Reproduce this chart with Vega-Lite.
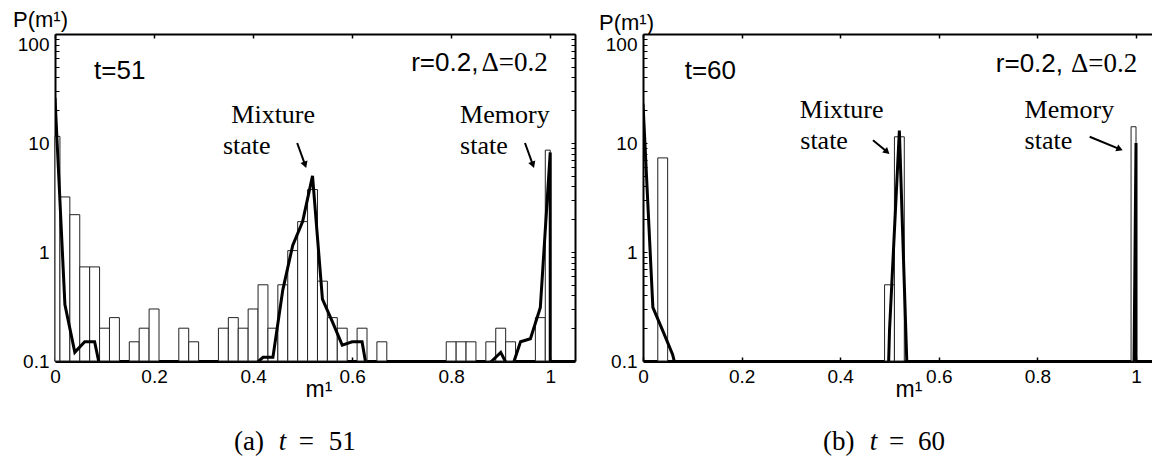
{
  "$schema": "https://vega.github.io/schema/vega-lite/v6.json",
  "padding": {"left": 12, "top": 8, "right": 0, "bottom": 0},
  "spacing": 22,
  "config": {"view": {"stroke": null}, "font": "Liberation Sans"},
  "datasets": {
    "barsA": [
      {"lo": 0, "hi": 0.01, "p": 11.5}, {"lo": 0.01, "hi": 0.03, "p": 3.2}, {"lo": 0.03, "hi": 0.05, "p": 2.2},
      {"lo": 0.05, "hi": 0.07, "p": 0.73}, {"lo": 0.07, "hi": 0.09, "p": 0.73}, {"lo": 0.09, "hi": 0.11, "p": 0.2},
      {"lo": 0.11, "hi": 0.13, "p": 0.25}, {"lo": 0.15, "hi": 0.17, "p": 0.15}, {"lo": 0.17, "hi": 0.19, "p": 0.2},
      {"lo": 0.19, "hi": 0.21, "p": 0.3}, {"lo": 0.25, "hi": 0.27, "p": 0.2}, {"lo": 0.27, "hi": 0.29, "p": 0.15},
      {"lo": 0.33, "hi": 0.35, "p": 0.2}, {"lo": 0.35, "hi": 0.37, "p": 0.25}, {"lo": 0.37, "hi": 0.39, "p": 0.2},
      {"lo": 0.39, "hi": 0.41, "p": 0.3}, {"lo": 0.41, "hi": 0.43, "p": 0.5}, {"lo": 0.43, "hi": 0.45, "p": 0.2},
      {"lo": 0.45, "hi": 0.47, "p": 0.5}, {"lo": 0.47, "hi": 0.49, "p": 1.03}, {"lo": 0.49, "hi": 0.51, "p": 1.9},
      {"lo": 0.51, "hi": 0.53, "p": 3.74}, {"lo": 0.53, "hi": 0.55, "p": 0.54}, {"lo": 0.55, "hi": 0.57, "p": 0.25},
      {"lo": 0.57, "hi": 0.59, "p": 0.2}, {"lo": 0.61, "hi": 0.63, "p": 0.2}, {"lo": 0.65, "hi": 0.67, "p": 0.15},
      {"lo": 0.79, "hi": 0.81, "p": 0.15}, {"lo": 0.81, "hi": 0.83, "p": 0.15}, {"lo": 0.83, "hi": 0.85, "p": 0.15},
      {"lo": 0.87, "hi": 0.89, "p": 0.15}, {"lo": 0.89, "hi": 0.91, "p": 0.2}, {"lo": 0.91, "hi": 0.93, "p": 0.15},
      {"lo": 0.97, "hi": 0.99, "p": 0.25}, {"lo": 0.99, "hi": 1.0, "p": 8.6}
    ],
    "lineA": [
      {"i": 0, "m": 0, "p": 26}, {"i": 1, "m": 0.02, "p": 0.33}, {"i": 2, "m": 0.04, "p": 0.12},
      {"i": 3, "m": 0.06, "p": 0.15}, {"i": 4, "m": 0.08, "p": 0.15}, {"i": 5, "m": 0.1, "p": 0.055},
      {"i": 6, "m": 0.4, "p": 0.09}, {"i": 7, "m": 0.42, "p": 0.108}, {"i": 8, "m": 0.44, "p": 0.108},
      {"i": 9, "m": 0.46, "p": 0.45}, {"i": 10, "m": 0.48, "p": 1.15}, {"i": 11, "m": 0.5, "p": 1.9},
      {"i": 12, "m": 0.52, "p": 5.0}, {"i": 13, "m": 0.54, "p": 0.37}, {"i": 14, "m": 0.56, "p": 0.23},
      {"i": 15, "m": 0.58, "p": 0.14}, {"i": 16, "m": 0.6, "p": 0.15}, {"i": 17, "m": 0.62, "p": 0.15},
      {"i": 18, "m": 0.64, "p": 0.045}, {"i": 19, "m": 0.88, "p": 0.098}, {"i": 20, "m": 0.9, "p": 0.12},
      {"i": 21, "m": 0.92, "p": 0.08}, {"i": 22, "m": 0.94, "p": 0.15}, {"i": 23, "m": 0.96, "p": 0.16},
      {"i": 24, "m": 0.98, "p": 0.31}, {"i": 25, "m": 1.0, "p": 8.2}, {"i": 26, "m": 1.0, "p": 0.0001}
    ],
    "notesA": [
      {"g": "time", "m": 0.079, "p": 39, "label": "t=51"},
      {"g": "r", "m": 0.855, "p": 46, "label": "r=0.2,"},
      {"g": "delta", "m": 0.861, "p": 46, "label": "Δ=0.2"},
      {"g": "state", "m": 0.356, "p": 15.2, "label": "Mixture"},
      {"g": "state", "m": 0.339, "p": 7.94, "label": "state"},
      {"g": "state", "m": 0.818, "p": 15.2, "label": "Memory"},
      {"g": "state", "m": 0.818, "p": 7.94, "label": "state"},
      {"g": "cap", "m": 0.3616, "p": 0.0152, "label": "(a)"},
      {"g": "capvar", "m": 0.452, "p": 0.0152, "label": "t"},
      {"g": "cap", "m": 0.492, "p": 0.0152, "label": "="},
      {"g": "cap", "m": 0.553, "p": 0.0152, "label": "51"}
    ],
    "arrowsA": [
      {"name": "mix", "x0": 0.489, "y0": 10, "x1": 0.505, "y1": 6.3},
      {"name": "mem", "x0": 0.949, "y0": 10, "x1": 0.965, "y1": 6.3}
    ],
    "barsB": [
      {"lo": 0.03, "hi": 0.05, "p": 7.3}, {"lo": 0.49, "hi": 0.51, "p": 0.5},
      {"lo": 0.51, "hi": 0.53, "p": 11.4}, {"lo": 0.99, "hi": 1.0, "p": 14.1}
    ],
    "lineB": [
      {"i": 0, "m": 0, "p": 23}, {"i": 1, "m": 0.02, "p": 0.31}, {"i": 2, "m": 0.04, "p": 0.19},
      {"i": 3, "m": 0.06, "p": 0.115}, {"i": 4, "m": 0.08, "p": 0.05}, {"i": 5, "m": 0.48, "p": 0.0001},
      {"i": 6, "m": 0.5, "p": 0.19}, {"i": 7, "m": 0.52, "p": 13}, {"i": 8, "m": 0.54, "p": 0.02},
      {"i": 9, "m": 0.56, "p": 0.0001}, {"i": 10, "m": 0.99, "p": 0.0001}, {"i": 11, "m": 1.0, "p": 10},
      {"i": 12, "m": 1.0, "p": 0.0001}
    ],
    "notesB": [
      {"g": "time", "m": 0.0846, "p": 39, "label": "t=60"},
      {"g": "r", "m": 0.852, "p": 45, "label": "r=0.2,"},
      {"g": "delta", "m": 0.868, "p": 45, "label": "Δ=0.2"},
      {"g": "state", "m": 0.318, "p": 16.9, "label": "Mixture"},
      {"g": "state", "m": 0.319, "p": 8.8, "label": "state"},
      {"g": "state", "m": 0.774, "p": 16.9, "label": "Memory"},
      {"g": "state", "m": 0.774, "p": 8.8, "label": "state"},
      {"g": "cap", "m": 0.365, "p": 0.0152, "label": "(b)"},
      {"g": "capvar", "m": 0.46, "p": 0.0152, "label": "t"},
      {"g": "cap", "m": 0.499, "p": 0.0152, "label": "="},
      {"g": "cap", "m": 0.558, "p": 0.0152, "label": "60"}
    ],
    "arrowsB": [
      {"name": "mix", "x0": 0.4665, "y0": 10.6, "x1": 0.495, "y1": 8.3},
      {"name": "mem", "x0": 0.906, "y0": 11.4, "x1": 0.967, "y1": 8.8}
    ]
  },
  "hconcat": [
    {
      "width": 520,
      "height": 327,
      "resolve": {"axis": {"x": "independent", "y": "independent"}},
      "layer": [
        {
          "data": {"name": "barsA"},
          "mark": {"type": "rect", "fill": "white", "stroke": "#222", "strokeWidth": 1},
          "encoding": {
            "x": {"field": "lo", "type": "quantitative", "scale": {"domain": [0, 1.05], "nice": false, "zero": false},
              "axis": {"orient": "bottom", "values": [0, 0.2, 0.4, 0.6, 0.8, 1], "format": "~g", "labelFlush": false, "labelOverlap": false,
                "labelFont": "Liberation Sans", "labelFontSize": 19, "labelColor": "black", "labelPadding": 10,
                "tickSize": -4, "tickColor": "black", "tickWidth": 1.5, "domainColor": "black", "domainWidth": 3, "grid": false,
                "title": "m¹", "titleFont": "Liberation Sans", "titleFontSize": 23, "titleFontWeight": "normal", "titleColor": "black",
                "titleAlign": "left", "titleBaseline": "alphabetic", "titleX": 250, "titleY": 35}},
            "x2": {"field": "hi"},
            "y": {"field": "p", "type": "quantitative", "scale": {"type": "log", "domain": [0.1, 100], "nice": false},
              "axis": {"orient": "left", "values": [0.1,0.2,0.3,0.4,0.5,0.6,0.7,0.8,0.9,1,2,3,4,5,6,7,8,9,10,20,30,40,50,60,70,80,90,100],
                "format": "~g", "labelExpr": "(datum.value == 0.1 || datum.value == 1 || datum.value == 10 || datum.value == 100) ? datum.label : ''",
                "labelOverlap": false, "labelFlush": false, "labelBound": false,
                "labelOffset": {"condition": {"test": "datum.value == 100", "value": 10}, "value": 0},
                "labelFont": "Liberation Sans", "labelFontSize": 19, "labelColor": "black", "labelPadding": 10,
                "tickSize": -4, "tickColor": "black", "tickWidth": 1, "domainColor": "black", "domainWidth": 2, "grid": false,
                "title": "P(m¹)", "titleAngle": 0, "titleFont": "Liberation Sans", "titleFontSize": 22, "titleFontWeight": "normal", "titleColor": "black",
                "titleAlign": "center", "titleBaseline": "alphabetic", "titleX": -15, "titleY": -8}},
            "y2": {"datum": 0.1}
          }
        },
        {
          "data": {"name": "barsA"},
          "mark": {"type": "rect", "opacity": 0},
          "encoding": {
            "x": {"field": "lo", "type": "quantitative", "scale": {"domain": [0, 1.05], "nice": false, "zero": false},
              "axis": {"orient": "top", "values": [0, 0.2, 0.4, 0.6, 0.8, 1], "labels": false, "tickSize": -4, "tickColor": "black", "tickWidth": 1.5,
                "domainColor": "black", "domainWidth": 2, "grid": false, "title": null}},
            "x2": {"field": "hi"},
            "y": {"field": "p", "type": "quantitative", "scale": {"type": "log", "domain": [0.1, 100], "nice": false},
              "axis": {"orient": "right", "values": [0.1,0.2,0.3,0.4,0.5,0.6,0.7,0.8,0.9,1,2,3,4,5,6,7,8,9,10,20,30,40,50,60,70,80,90,100],
                "labels": false, "tickSize": -4, "tickColor": "black", "tickWidth": 1, "domainColor": "black", "domainWidth": 2, "grid": false, "title": null}},
            "y2": {"datum": 0.1}
          }
        },
        {
          "data": {"name": "lineA"},
          "mark": {"type": "line", "color": "black", "strokeWidth": 3, "clip": true},
          "encoding": {
            "x": {"field": "m", "type": "quantitative", "axis": null},
            "y": {"field": "p", "type": "quantitative", "axis": null},
            "order": {"field": "i", "type": "quantitative"}
          }
        },
        {
          "data": {"name": "notesA"},
          "transform": [{"filter": "datum.g == 'time'"}],
          "mark": {"type": "text", "align": "left", "baseline": "alphabetic", "font": "Liberation Sans", "fontSize": 26, "color": "black"},
          "encoding": {"x": {"field": "m", "type": "quantitative", "axis": null}, "y": {"field": "p", "type": "quantitative", "axis": null}, "text": {"field": "label"}}
        },
        {
          "data": {"name": "notesA"},
          "transform": [{"filter": "datum.g == 'r'"}],
          "mark": {"type": "text", "align": "right", "baseline": "alphabetic", "font": "Liberation Sans", "fontSize": 26, "color": "black"},
          "encoding": {"x": {"field": "m", "type": "quantitative", "axis": null}, "y": {"field": "p", "type": "quantitative", "axis": null}, "text": {"field": "label"}}
        },
        {
          "data": {"name": "notesA"},
          "transform": [{"filter": "datum.g == 'delta'"}],
          "mark": {"type": "text", "align": "left", "baseline": "alphabetic", "font": "Liberation Serif", "fontSize": 27, "color": "black"},
          "encoding": {"x": {"field": "m", "type": "quantitative", "axis": null}, "y": {"field": "p", "type": "quantitative", "axis": null}, "text": {"field": "label"}}
        },
        {
          "data": {"name": "notesA"},
          "transform": [{"filter": "datum.g == 'state'"}],
          "mark": {"type": "text", "align": "left", "baseline": "alphabetic", "font": "Liberation Serif", "fontSize": 26, "color": "black"},
          "encoding": {"x": {"field": "m", "type": "quantitative", "axis": null}, "y": {"field": "p", "type": "quantitative", "axis": null}, "text": {"field": "label"}}
        },
        {
          "data": {"name": "notesA"},
          "transform": [{"filter": "datum.g == 'cap'"}],
          "mark": {"type": "text", "align": "left", "baseline": "alphabetic", "font": "Liberation Serif", "fontSize": 27, "color": "black"},
          "encoding": {"x": {"field": "m", "type": "quantitative", "axis": null}, "y": {"field": "p", "type": "quantitative", "axis": null}, "text": {"field": "label"}}
        },
        {
          "data": {"name": "notesA"},
          "transform": [{"filter": "datum.g == 'capvar'"}],
          "mark": {"type": "text", "align": "left", "baseline": "alphabetic", "font": "Liberation Serif", "fontStyle": "italic", "fontSize": 27, "color": "black"},
          "encoding": {"x": {"field": "m", "type": "quantitative", "axis": null}, "y": {"field": "p", "type": "quantitative", "axis": null}, "text": {"field": "label"}}
        },
        {
          "data": {"name": "arrowsA"},
          "mark": {"type": "rule", "color": "black", "strokeWidth": 2},
          "encoding": {
            "x": {"field": "x0", "type": "quantitative", "axis": null}, "y": {"field": "y0", "type": "quantitative", "axis": null},
            "x2": {"field": "x1"}, "y2": {"field": "y1"}
          }
        },
        {
          "data": {"name": "arrowsA"},
          "mark": {"type": "point", "shape": "triangle-up", "filled": true, "color": "black", "opacity": 1, "size": 55, "angle": 160},
          "encoding": {"x": {"field": "x1", "type": "quantitative", "axis": null}, "y": {"field": "y1", "type": "quantitative", "axis": null}}
        }
      ]
    },
    {
      "width": 511,
      "height": 327,
      "resolve": {"axis": {"x": "independent", "y": "independent"}},
      "layer": [
        {
          "data": {"name": "barsB"},
          "mark": {"type": "rect", "fill": "white", "stroke": "#222", "strokeWidth": 1},
          "encoding": {
            "x": {"field": "lo", "type": "quantitative", "scale": {"domain": [0, 1.0365], "nice": false, "zero": false},
              "axis": {"orient": "bottom", "values": [0, 0.2, 0.4, 0.6, 0.8, 1], "format": "~g", "labelFlush": false, "labelOverlap": false,
                "labelFont": "Liberation Sans", "labelFontSize": 19, "labelColor": "black", "labelPadding": 10,
                "tickSize": -4, "tickColor": "black", "tickWidth": 1.5, "domainColor": "black", "domainWidth": 3, "grid": false,
                "title": "m¹", "titleFont": "Liberation Sans", "titleFontSize": 23, "titleFontWeight": "normal", "titleColor": "black",
                "titleAlign": "left", "titleBaseline": "alphabetic", "titleX": 252, "titleY": 35}},
            "x2": {"field": "hi"},
            "y": {"field": "p", "type": "quantitative", "scale": {"type": "log", "domain": [0.1, 100], "nice": false},
              "axis": {"orient": "left", "values": [0.1,0.2,0.3,0.4,0.5,0.6,0.7,0.8,0.9,1,2,3,4,5,6,7,8,9,10,20,30,40,50,60,70,80,90,100],
                "format": "~g", "labelExpr": "(datum.value == 0.1 || datum.value == 1 || datum.value == 10 || datum.value == 100) ? datum.label : ''",
                "labelOverlap": false, "labelFlush": false, "labelBound": false,
                "labelOffset": {"condition": {"test": "datum.value == 100", "value": 10}, "value": 0},
                "labelFont": "Liberation Sans", "labelFontSize": 19, "labelColor": "black", "labelPadding": 10,
                "tickSize": -4, "tickColor": "black", "tickWidth": 1, "domainColor": "black", "domainWidth": 2, "grid": false,
                "title": "P(m¹)", "titleAngle": 0, "titleFont": "Liberation Sans", "titleFontSize": 22, "titleFontWeight": "normal", "titleColor": "black",
                "titleAlign": "center", "titleBaseline": "alphabetic", "titleX": -17, "titleY": -5}},
            "y2": {"datum": 0.1}
          }
        },
        {
          "data": {"name": "barsB"},
          "mark": {"type": "rect", "opacity": 0},
          "encoding": {
            "x": {"field": "lo", "type": "quantitative", "scale": {"domain": [0, 1.0365], "nice": false, "zero": false},
              "axis": {"orient": "top", "values": [0, 0.2, 0.4, 0.6, 0.8, 1], "labels": false, "tickSize": -4, "tickColor": "black", "tickWidth": 1.5,
                "domainColor": "black", "domainWidth": 2, "grid": false, "title": null}},
            "x2": {"field": "hi"},
            "y": {"field": "p", "type": "quantitative", "scale": {"type": "log", "domain": [0.1, 100], "nice": false}, "axis": null},
            "y2": {"datum": 0.1}
          }
        },
        {
          "data": {"name": "lineB"},
          "mark": {"type": "line", "color": "black", "strokeWidth": 3, "clip": true},
          "encoding": {
            "x": {"field": "m", "type": "quantitative", "axis": null},
            "y": {"field": "p", "type": "quantitative", "axis": null},
            "order": {"field": "i", "type": "quantitative"}
          }
        },
        {
          "data": {"name": "notesB"},
          "transform": [{"filter": "datum.g == 'time'"}],
          "mark": {"type": "text", "align": "left", "baseline": "alphabetic", "font": "Liberation Sans", "fontSize": 26, "color": "black"},
          "encoding": {"x": {"field": "m", "type": "quantitative", "axis": null}, "y": {"field": "p", "type": "quantitative", "axis": null}, "text": {"field": "label"}}
        },
        {
          "data": {"name": "notesB"},
          "transform": [{"filter": "datum.g == 'r'"}],
          "mark": {"type": "text", "align": "right", "baseline": "alphabetic", "font": "Liberation Sans", "fontSize": 26, "color": "black"},
          "encoding": {"x": {"field": "m", "type": "quantitative", "axis": null}, "y": {"field": "p", "type": "quantitative", "axis": null}, "text": {"field": "label"}}
        },
        {
          "data": {"name": "notesB"},
          "transform": [{"filter": "datum.g == 'delta'"}],
          "mark": {"type": "text", "align": "left", "baseline": "alphabetic", "font": "Liberation Serif", "fontSize": 27, "color": "black"},
          "encoding": {"x": {"field": "m", "type": "quantitative", "axis": null}, "y": {"field": "p", "type": "quantitative", "axis": null}, "text": {"field": "label"}}
        },
        {
          "data": {"name": "notesB"},
          "transform": [{"filter": "datum.g == 'state'"}],
          "mark": {"type": "text", "align": "left", "baseline": "alphabetic", "font": "Liberation Serif", "fontSize": 26, "color": "black"},
          "encoding": {"x": {"field": "m", "type": "quantitative", "axis": null}, "y": {"field": "p", "type": "quantitative", "axis": null}, "text": {"field": "label"}}
        },
        {
          "data": {"name": "notesB"},
          "transform": [{"filter": "datum.g == 'cap'"}],
          "mark": {"type": "text", "align": "left", "baseline": "alphabetic", "font": "Liberation Serif", "fontSize": 27, "color": "black"},
          "encoding": {"x": {"field": "m", "type": "quantitative", "axis": null}, "y": {"field": "p", "type": "quantitative", "axis": null}, "text": {"field": "label"}}
        },
        {
          "data": {"name": "notesB"},
          "transform": [{"filter": "datum.g == 'capvar'"}],
          "mark": {"type": "text", "align": "left", "baseline": "alphabetic", "font": "Liberation Serif", "fontStyle": "italic", "fontSize": 27, "color": "black"},
          "encoding": {"x": {"field": "m", "type": "quantitative", "axis": null}, "y": {"field": "p", "type": "quantitative", "axis": null}, "text": {"field": "label"}}
        },
        {
          "data": {"name": "arrowsB"},
          "mark": {"type": "rule", "color": "black", "strokeWidth": 2},
          "encoding": {
            "x": {"field": "x0", "type": "quantitative", "axis": null}, "y": {"field": "y0", "type": "quantitative", "axis": null},
            "x2": {"field": "x1"}, "y2": {"field": "y1"}
          }
        },
        {
          "data": {"name": "arrowsB"},
          "transform": [{"filter": "datum.name == 'mix'"}],
          "mark": {"type": "point", "shape": "triangle-up", "filled": true, "color": "black", "opacity": 1, "size": 55, "angle": 131},
          "encoding": {"x": {"field": "x1", "type": "quantitative", "axis": null}, "y": {"field": "y1", "type": "quantitative", "axis": null}}
        },
        {
          "data": {"name": "arrowsB"},
          "transform": [{"filter": "datum.name == 'mem'"}],
          "mark": {"type": "point", "shape": "triangle-up", "filled": true, "color": "black", "opacity": 1, "size": 55, "angle": 113},
          "encoding": {"x": {"field": "x1", "type": "quantitative", "axis": null}, "y": {"field": "y1", "type": "quantitative", "axis": null}}
        }
      ]
    }
  ]
}
